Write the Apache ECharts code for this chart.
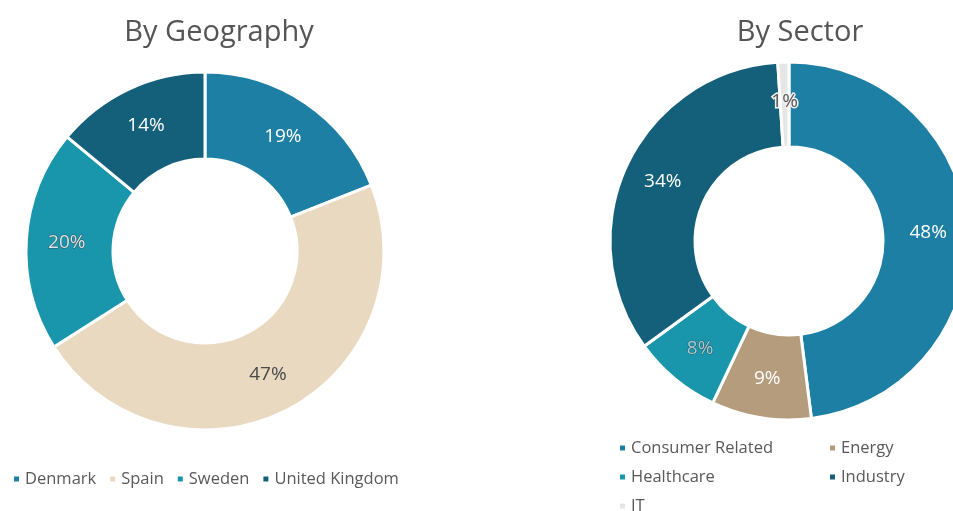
<!DOCTYPE html>
<html>
<head>
<meta charset="utf-8">
<script src="https://cdn.jsdelivr.net/npm/echarts@6/dist/echarts.min.js"></script>
<style>
	html, body { margin: 0; padding: 0; background: #fff; }
	#chart { width: 953px; height: 511px; }
</style>
</head>
<body>
<div id="chart"></div>
<script>
	// data
	var geoNames = ['Denmark', 'Spain', 'Sweden', 'United Kingdom'];
	var geoValues = [19, 47, 20, 14];
	var sectorNames = ['Consumer Related', 'Energy', 'Healthcare', 'Industry', 'IT'];
	var sectorValues = [48, 9, 8, 34, 1];

	var geoColors = ['#1d7fa4', '#e9d9c0', '#1a96ac', '#145f7a'];
	var geoLabelColors = ['#fff', '#4a4a4a', '#d6e6ea', '#fff'];
	var sectorColors = ['#1d7fa4', '#b59c7c', '#1a96ac', '#145f7a', '#e6e6e6'];
	var sectorLabelColors = ['#fff', '#fff', '#9fcfd8', '#fff', '#555'];
	// outline round some labels, as in the scan
	var geoLabelBorders = [null, null, '#35535c', null];
	var sectorLabelBorders = [null, null, '#35535c', null, '#f2f2f2'];

	function buildData(names, values, colors, labelColors, labelBorders) {
		var arr = [];
		for (var i = 0; i < names.length; i++) {
			var item = {
				name: names[i],
				value: values[i],
				itemStyle: { color: colors[i] },
				label: { color: labelColors[i] }
			};
			if (labelBorders[i]) {
				item.label.textBorderColor = labelBorders[i];
				item.label.textBorderWidth = labelBorders[i] === '#f2f2f2' ? 3 : 1;
			}
			arr.push(item);
		}
		return arr;
	}

	var font = '"Open Sans", sans-serif';
	var legendText = { fontFamily: font, fontSize: 16.5, color: '#595959', lineHeight: 20 };
	function sideLegend(names, left, top) {
		return {
			data: names,
			left: left,
			top: top,
			orient: 'vertical',
			padding: 0,
			icon: 'rect',
			itemWidth: 7,
			itemHeight: 7,
			itemGap: 9,
			textStyle: legendText
		};
	}

	var chart = echarts.init(document.getElementById('chart'));
	var option = {
		animation: false,
		title: [{
			text: 'By Geography',
			left: 214,
			top: 13,
			textAlign: 'center',
			textStyle: { fontFamily: font, fontSize: 29, fontWeight: 'normal', color: '#555' }
		}, {
			text: 'By Sector',
			left: 795,
			top: 13,
			textAlign: 'center',
			textStyle: { fontFamily: font, fontSize: 29, fontWeight: 'normal', color: '#555' }
		}],
		legend: [{
			data: geoNames,
			left: 12,
			top: 469,
			orient: 'horizontal',
			padding: 0,
			icon: 'rect',
			itemWidth: 7,
			itemHeight: 7,
			itemGap: 12,
			textStyle: legendText
		},
			sideLegend(['Consumer Related', 'Healthcare'], 618, 438),
			sideLegend(['IT'], 618, 496),
			sideLegend(['Energy', 'Industry'], 828, 438)
		],
		series: [{
			name: 'By Geography',
			type: 'pie',
			center: [205, 251],
			radius: [92, 179],
			startAngle: 90,
			clockwise: true,
			avoidLabelOverlap: false,
			itemStyle: { borderColor: '#fff', borderWidth: 3 },
			label: {
				show: true,
				position: 'inside',
				overflow: 'none',
				fontFamily: font,
				fontSize: 19,
				formatter: function(p) { return p.value + '%'; }
			},
			labelLine: { show: false },
			emphasis: { disabled: true },
			data: buildData(geoNames, geoValues, geoColors, geoLabelColors, geoLabelBorders)
		}, {
			name: 'By Sector',
			type: 'pie',
			center: [789, 241],
			radius: [94, 179],
			startAngle: 90,
			clockwise: true,
			avoidLabelOverlap: false,
			itemStyle: { borderColor: '#fff', borderWidth: 3 },
			label: {
				show: true,
				position: 'inside',
				overflow: 'none',
				fontFamily: font,
				fontSize: 19,
				formatter: function(p) { return p.value + '%'; }
			},
			labelLine: { show: false },
			emphasis: { disabled: true },
			data: buildData(sectorNames, sectorValues, sectorColors, sectorLabelColors, sectorLabelBorders)
		}]
	};
	chart.setOption(option);
	window.onresize = chart.resize;
</script>
</body>
</html>
